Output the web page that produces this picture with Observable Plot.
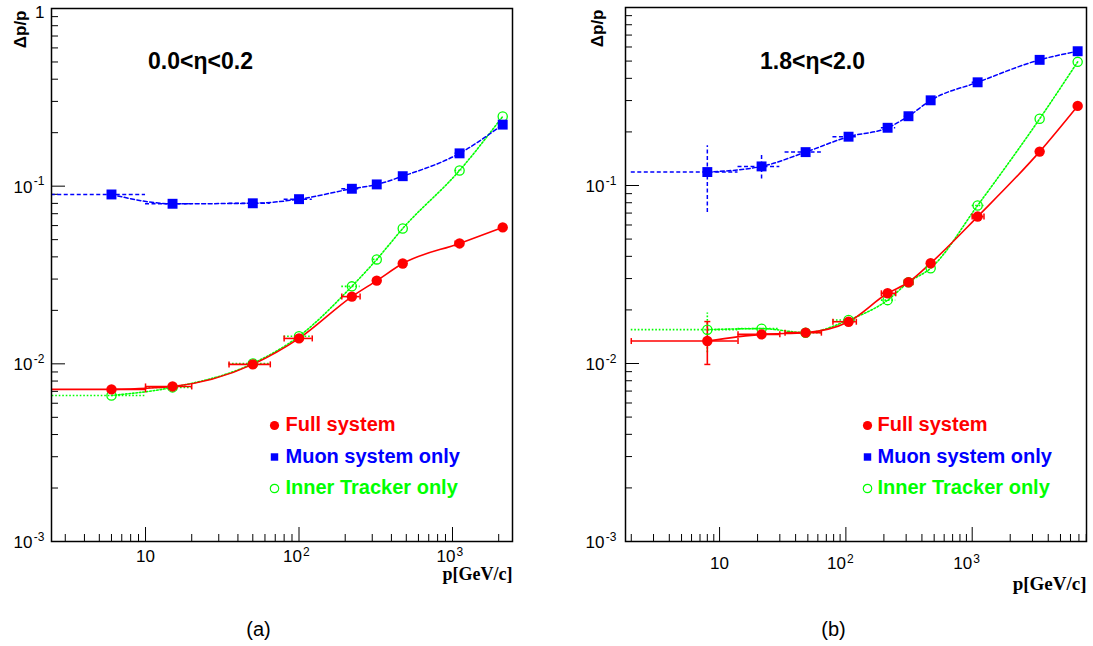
<!DOCTYPE html>
<html>
<head>
<meta charset="utf-8">
<script src="https://cdn.jsdelivr.net/npm/d3@7"></script>
<script src="https://cdn.jsdelivr.net/npm/@observablehq/plot@0.6"></script>
<style>
  body { margin: 0; background: #fff; }
  #wrap { position: relative; width: 1093px; height: 646px; overflow: hidden; }
  #wrap svg { position: absolute; top: 0; overflow: visible; }
</style>
</head>
<body>
<div id="wrap"></div>
<script>
// ---------------- DATA ----------------
// Panel (a): 0.0 < eta < 0.2
const pA      = [6, 15, 50, 100, 221, 321, 474, 1112, 2124];
const pA_lo   = [2, 10, 35, 80, 190, 305, 474, 1040, 2124];
const pA_hi   = [10, 20, 65, 122, 250, 335, 474, 1160, 2124];
const fullA   = [0.00718, 0.00746, 0.00993, 0.0139, 0.0239, 0.0294, 0.0367, 0.0476, 0.0586];
const muonA   = [0.0898, 0.0796, 0.0801, 0.0845, 0.0967, 0.1023, 0.1138, 0.153, 0.222];
const innerA  = [0.00664, 0.00737, 0.01005, 0.0143, 0.0273, 0.0387, 0.0578, 0.1226, 0.247];

// Panel (b): 1.8 < eta < 2.0
const pB      = [8, 21.5, 48, 105, 214, 313, 469, 1104, 3420, 6840];
const pB_lo   = [2, 14, 33, 79, 191, 290, 469, 1000, 3420, 6840];
const pB_hi   = [14, 30, 64, 121, 248, 340, 469, 1240, 3420, 6840];
const fullB   = [0.01337, 0.01458, 0.0149, 0.01717, 0.0248, 0.0286, 0.0366, 0.0669, 0.155, 0.280];
const muonB   = [0.119, 0.128, 0.154, 0.188, 0.211, 0.245, 0.301, 0.380, 0.508, 0.568];
const innerB  = [0.01549, 0.0157, 0.0149, 0.01755, 0.0227, 0.0286, 0.0343, 0.0772, 0.237, 0.495];
// vertical error bars (panel b, low p points)
const fullB_elo  = [0.00988, 0.0142, 0.0149, 0.01717, 0.0248, 0.0286, 0.0366, 0.0669, 0.155, 0.280];
const fullB_ehi  = [0.0172, 0.0150, 0.0149, 0.01717, 0.0248, 0.0286, 0.0366, 0.0669, 0.155, 0.280];
const muonB_elo  = [0.0705, 0.1086, 0.154, 0.188, 0.211, 0.245, 0.301, 0.380, 0.508, 0.568];
const muonB_ehi  = [0.167, 0.149, 0.154, 0.188, 0.211, 0.245, 0.301, 0.380, 0.508, 0.568];
const innerB_elo = [0.0115, 0.0157, 0.0149, 0.01755, 0.0227, 0.0286, 0.0343, 0.0772, 0.237, 0.495];
const innerB_ehi = [0.0192, 0.0157, 0.0149, 0.01755, 0.0227, 0.0286, 0.0343, 0.0772, 0.237, 0.495];

// labels
const legendLabels = ["Full system", "Muon system only", "Inner Tracker only"];
const titleA = "0.0<\u03b7<0.2";
const titleB = "1.8<\u03b7<2.0";
const yTickValues = [1, 0.1, 0.01, 0.001];
const yTickBase   = ["1", "10", "10", "10"];
const yTickExp    = ["", "-1", "-2", "-3"];
const xTickValues = [10, 100, 1000];
const xTickBase   = ["10", "10", "10"];
const xTickExp    = ["", "2", "3"];
const yTitle = "\u0394p/p";
const xTitle = "p[GeV/c]";

// ---------------- HELPERS ----------------
const RED = "#ff0000", BLUE = "#0000ff", GREEN = "#00ff00";
const SANS = "'Liberation Sans', Arial, Helvetica, sans-serif";
const SERIF = "'Liberation Serif', 'Times New Roman', serif";

const vcap = {draw(ctx, size) { const r = Math.sqrt(size / Math.PI); ctx.moveTo(0, -r); ctx.lineTo(0, r); }};
const hcap = {draw(ctx, size) { const r = Math.sqrt(size / Math.PI); ctx.moveTo(-r, 0); ctx.lineTo(r, 0); }};

function rows(p, lo, hi, v, elo, ehi) {
  return p.map((d, i) => ({p: d, lo: lo[i], hi: hi[i], v: v[i],
    elo: elo ? elo[i] : v[i], ehi: ehi ? ehi[i] : v[i]}));
}

function minorTicks(lo, hi) {
  const out = [];
  for (let e = -4; e <= 4; e++) for (let m = 2; m <= 9; m++) {
    const t = m * Math.pow(10, e);
    if (t > lo * 1.0001 && t < hi * 0.9999) out.push(t);
  }
  return out;
}

function seriesMarks(data, color, dash, sw, caps) {
  const xe = data.filter(d => d.hi > d.lo);
  const ye = data.filter(d => d.ehi > d.elo);
  const style = {stroke: color, strokeWidth: sw, strokeDasharray: dash, clip: true};
  const m = [
    Plot.line(data, {x: "p", y: "v", curve: "monotone-x", ...style}),
    Plot.ruleY(xe, {y: "v", x1: "lo", x2: "hi", ...style}),
    Plot.ruleX(ye, {x: "p", y1: "elo", y2: "ehi", ...style})
  ];
  if (caps) {
    const cs = {fill: "none", stroke: color, strokeWidth: 1.5, r: 3, clip: true};
    m.push(Plot.dot(xe, {x: "lo", y: "v", symbol: vcap, ...cs}));
    m.push(Plot.dot(xe, {x: "hi", y: "v", symbol: vcap, ...cs}));
    m.push(Plot.dot(ye, {x: "p", y: "elo", symbol: hcap, ...cs}));
    m.push(Plot.dot(ye, {x: "p", y: "ehi", symbol: hcap, ...cs}));
  }
  return m;
}

function panel(cfg) {
  const W = cfg.width - cfg.marginLeft - cfg.marginRight;
  const H = cfg.height - cfg.marginTop - cfg.marginBottom;
  const yTicks = yTickValues.map((v, i) => ({v, base: yTickBase[i], exp: yTickExp[i]}))
    .filter(d => cfg.showOne || d.v !== 1);
  const xTicks = xTickValues.map((v, i) => ({v, base: xTickBase[i], exp: xTickExp[i]}));
  const xMinor = minorTicks(cfg.xdomain[0], cfg.xdomain[1]);
  const yMinor = minorTicks(1e-3, 1);
  const inner = rows(cfg.p, cfg.lo, cfg.hi, cfg.inner, cfg.innerElo, cfg.innerEhi);
  const muon = rows(cfg.p, cfg.lo, cfg.hi, cfg.muon, cfg.muonElo, cfg.muonEhi);
  const full = rows(cfg.p, cfg.lo, cfg.hi, cfg.full, cfg.fullElo, cfg.fullEhi);
  const legend = legendLabels.map((t, i) => ({t, i}));
  const lg = cfg.legend;

  const svg = Plot.plot({
    width: cfg.width, height: cfg.height,
    marginTop: cfg.marginTop, marginLeft: cfg.marginLeft,
    marginRight: cfg.marginRight, marginBottom: cfg.marginBottom,
    x: {type: "log", domain: cfg.xdomain, axis: null},
    y: {type: "log", domain: [1e-3, 1], axis: null},
    style: {fontFamily: SANS, background: "transparent", overflow: "visible"},
    marks: [
      // ticks (ROOT style, pointing inward)
      Plot.ruleX(xTickValues, {x: d => d, insetTop: H - 14, stroke: "#000", strokeWidth: 1}),
      Plot.ruleX(xMinor, {x: d => d, insetTop: H - 7, stroke: "#000", strokeWidth: 1}),
      Plot.ruleY(yTickValues, {y: d => d, insetRight: W - 14, stroke: "#000", strokeWidth: 1}),
      Plot.ruleY(yMinor, {y: d => d, insetRight: W - 7, stroke: "#000", strokeWidth: 1}),
      // series
      ...seriesMarks(inner, GREEN, "1.6,1.9", 1.6, false),
      ...seriesMarks(muon, BLUE, "4,2.5", 1.5, false),
      ...seriesMarks(full, RED, null, 1.6, true),
      Plot.dot(inner, {x: "p", y: "v", r: 4.6, fill: "none", stroke: GREEN, strokeWidth: 1.3}),
      Plot.dot(muon, {x: "p", y: "v", symbol: "square", r: 5.6, fill: BLUE, stroke: "none"}),
      Plot.dot(full, {x: "p", y: "v", r: 5.2, fill: RED, stroke: "none"}),
      Plot.frame({stroke: "#000", strokeWidth: 1.5}),
      // y tick labels
      Plot.text(yTicks.filter(d => !d.exp), {y: "v", text: "base", frameAnchor: "left", textAnchor: "end",
        lineAnchor: "bottom", dx: -cfg.yLabGap, dy: 9, fontSize: 17, fill: "#000"}),
      Plot.text(yTicks.filter(d => d.exp), {y: "v", text: "base", frameAnchor: "left", textAnchor: "end",
        lineAnchor: "middle", dx: -cfg.yLabGap - 12, dy: 1, fontSize: 17, fill: "#000"}),
      Plot.text(yTicks.filter(d => d.exp), {y: "v", text: "exp", frameAnchor: "left", textAnchor: "end",
        lineAnchor: "bottom", dx: -cfg.yLabGap, dy: -1, fontSize: 12, fill: "#000"}),
      // x tick labels
      Plot.text(xTicks.filter(d => !d.exp), {x: "v", text: "base", frameAnchor: "bottom", textAnchor: "middle",
        lineAnchor: "bottom", dy: cfg.xLabDy, fontSize: 17, fill: "#000"}),
      Plot.text(xTicks.filter(d => d.exp), {x: "v", text: "base", frameAnchor: "bottom", textAnchor: "end",
        lineAnchor: "bottom", dx: cfg.xBaseDx, dy: cfg.xLabDy, fontSize: 17, fill: "#000"}),
      Plot.text(xTicks.filter(d => d.exp), {x: "v", text: "exp", frameAnchor: "bottom", textAnchor: "start",
        lineAnchor: "bottom", dx: cfg.xBaseDx + 1, dy: cfg.xLabDy - 6, fontSize: 12, fill: "#000"}),
      // axis titles
      Plot.text([yTitle], {text: d => d, frameAnchor: "top-left", rotate: -90, textAnchor: "end",
        lineAnchor: "bottom", dx: cfg.yTitleDx, dy: 2, fontSize: 17, fontWeight: "bold", fill: "#000"}),
      Plot.text([xTitle], {text: d => d, frameAnchor: "bottom-right", textAnchor: "end",
        lineAnchor: "bottom", dx: 0, dy: cfg.xTitleDy, fontSize: cfg.xTitleSize, fontWeight: "bold",
        fontFamily: SERIF, fill: "#000"}),
      // panel title
      Plot.text([cfg.title], {text: d => d, frameAnchor: "top-left", textAnchor: "middle", lineAnchor: "bottom",
        dx: cfg.titleDx, dy: cfg.titleDy, fontSize: 23, fontWeight: "bold", fill: "#000"}),
      // legend
      Plot.dot(legend.filter(d => d.i === 0), {frameAnchor: "top-left", dx: lg.mx, dy: lg.y0, r: 4.6, fill: RED, stroke: "none"}),
      Plot.dot(legend.filter(d => d.i === 1), {frameAnchor: "top-left", dx: lg.mx, dy: lg.y0 + 31.5, symbol: "square", r: 4.2, fill: BLUE, stroke: "none"}),
      Plot.dot(legend.filter(d => d.i === 2), {frameAnchor: "top-left", dx: lg.mx, dy: lg.y0 + 63, r: 4.2, fill: "none", stroke: GREEN, strokeWidth: 1.2}),
      Plot.text(legend.filter(d => d.i === 0), {text: "t", frameAnchor: "top-left", textAnchor: "start", lineAnchor: "middle",
        dx: lg.tx, dy: lg.y0 - 0.5, fontSize: 20, fontWeight: "bold", fill: RED}),
      Plot.text(legend.filter(d => d.i === 1), {text: "t", frameAnchor: "top-left", textAnchor: "start", lineAnchor: "middle",
        dx: lg.tx, dy: lg.y0 + 31, fontSize: 20, fontWeight: "bold", fill: BLUE}),
      Plot.text(legend.filter(d => d.i === 2), {text: "t", frameAnchor: "top-left", textAnchor: "start", lineAnchor: "middle",
        dx: lg.tx, dy: lg.y0 + 62.5, fontSize: 20, fontWeight: "bold", fill: GREEN}),
      // panel label
      Plot.text([cfg.label], {text: d => d, frameAnchor: "bottom-left", textAnchor: "middle", lineAnchor: "bottom",
        dx: cfg.labelDx, dy: 94, fontSize: 20, fill: "#000"})
    ]
  });
  svg.style.left = cfg.left + "px";
  return svg;
}

const wrap = document.getElementById("wrap");
wrap.appendChild(panel({
  left: 0, width: 545, height: 646, marginTop: 8, marginLeft: 51, marginRight: 33, marginBottom: 105,
  xdomain: [2.44, 2460], p: pA, lo: pA_lo, hi: pA_hi, full: fullA, muon: muonA, inner: innerA,
  showOne: true, yLabGap: 7, xLabDy: 20, xBaseDx: 3, yTitleDx: -26, xTitleDy: 38, xTitleSize: 18,
  title: titleA, titleDx: 149, titleDy: 60,
  legend: {mx: 223, tx: 234, y0: 417},
  label: "(a)", labelDx: 207
}));
wrap.appendChild(panel({
  left: 560, width: 533, height: 646, marginTop: 7, marginLeft: 65, marginRight: 7, marginBottom: 105,
  xdomain: [1.80, 8035], p: pB, lo: pB_lo, hi: pB_hi, full: fullB, muon: muonB, inner: innerB,
  fullElo: fullB_elo, fullEhi: fullB_ehi, muonElo: muonB_elo, muonEhi: muonB_ehi,
  innerElo: innerB_elo, innerEhi: innerB_ehi,
  showOne: false, yLabGap: 9, xLabDy: 27, xBaseDx: 0, yTitleDx: -23, xTitleDy: 48, xTitleSize: 19,
  title: titleB, titleDx: 187, titleDy: 61,
  legend: {mx: 242, tx: 252, y0: 418},
  label: "(b)", labelDx: 208
}));
</script>
</body>
</html>
